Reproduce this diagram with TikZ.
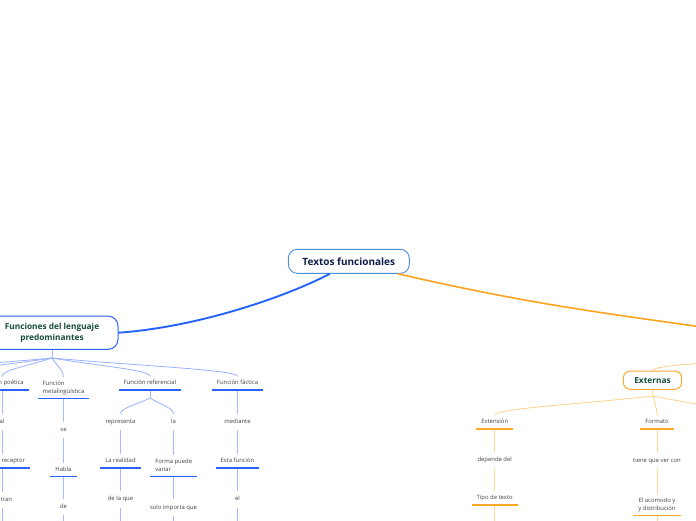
\documentclass[tikz,border=0pt]{standalone}
\usepackage{fontspec}
\setmainfont{Open Sans}
\usetikzlibrary{calc}
\definecolor{rootB}{HTML}{4A90D9}
\definecolor{navy}{HTML}{0F1E4A}
\definecolor{dgreen}{HTML}{144D3C}
\definecolor{blueT}{HTML}{2563FF}
\definecolor{blueF}{HTML}{98B1FF}
\definecolor{blueU}{HTML}{2962FF}
\definecolor{blueV}{HTML}{A6BAFF}
\definecolor{txt}{HTML}{444444}
\definecolor{orT}{HTML}{FFA21F}
\definecolor{orB}{HTML}{FFA930}
\definecolor{orF}{HTML}{FFD08A}
\definecolor{orU}{HTML}{FFA726}
\definecolor{orV}{HTML}{FFD79A}
\newcommand\ms{\rule[-1.4pt]{0pt}{5.8pt}}
\begin{document}
\begin{tikzpicture}[x=1pt,y=-1pt,
  small/.style={font=\fontsize{5.9}{8}\selectfont, text=txt},
  lab/.style={small, inner xsep=1pt, inner ysep=5.1pt, text height=4.4pt, text depth=1.4pt},
  tit/.style={small, inner xsep=4.8pt, inner ysep=3.7pt, text height=4.4pt, text depth=1.4pt, anchor=south},
  tittwo/.style={small, inner xsep=4.8pt, inner ysep=3.7pt, anchor=south},
  rootbox/.style={draw=rootB, line width=0.9pt, fill=white, rounded corners=9pt, minimum width=121pt, minimum height=24pt, font=\bfseries\fontsize{10}{12}\selectfont, text=navy},
  funbox/.style={draw=blueT, line width=1pt, fill=white, rounded corners=10pt, minimum width=132pt, minimum height=33.3pt, align=center, font=\bfseries\fontsize{8.3}{11}\selectfont, text=dgreen},
  extbox/.style={draw=orB, line width=1pt, fill=white, rounded corners=7pt, minimum width=58.4pt, minimum height=18.3pt, font=\bfseries\fontsize{8.3}{10}\selectfont, text=dgreen},
  fan/.style={to path={let \p1=(\tikztostart), \p2=(\tikztotarget) in .. controls ({\x1+0.5*(\x2-\x1)},{\y1+0.45*(\y2-\y1)}) and ({\x2},{\y1+0.65*(\y2-\y1)}) .. (\tikztotarget) \tikztonodes}},
  fanB/.style={draw=blueF, line width=0.8pt, fan},
  fanO/.style={draw=orF, line width=0.8pt, fan},
  vB/.style={draw=blueV, line width=0.9pt},
  vO/.style={draw=orV, line width=0.9pt},
  ulB/.style={draw=blueU, line width=1.5pt},
  ulO/.style={draw=orU, line width=1.5pt},
  thickB/.style={draw=blueT, line width=1.9pt},
  thickO/.style={draw=orT, line width=1.6pt}
]
\useasboundingbox (0,0) rectangle (696,520);
\fill[white] (0,0) rectangle (696,520);
\clip (0,0) rectangle (696,520);

% main nodes
\node[rootbox] (root) at (348.8,261.3) {Textos funcionales};
\node[funbox] (fun) at (52,332.7) {Funciones del lenguaje\\predominantes};
\node[extbox] (ext) at (652.5,380.2) {Externas};
\coordinate (carac) at (745,333);
\coordinate (cs) at (785,360);

% blue subtree
\coordinate (fs) at (52,358);
\coordinate (fo1) at (-60,377);
\coordinate (fo2) at (-130,377);
\node[tit] (fp) at (2,390) {Función poética};
\node[tittwo, align=left] (fm) at (63.5,398.7) {\ms Función\\\ms metalingüística};
\node[tit] (fr) at (150,390) {Función referencial};
\node[tit] (ff) at (237.5,390) {Función fáctica};

\node[lab] (p1) at (2,422) {al};
\node[tit, text width=46pt, align=right] (p2) at (2,468) {receptor};
\node[lab, text width=20pt, align=right] (p3) at (2,500) {tran};

\node[lab] (m1) at (63.5,430) {se};
\node[tit] (m2) at (63.5,476.3) {Habla};
\node[lab] (m3) at (63.5,507) {de};

\coordinate (rs) at (150,398);
\node[lab] (r1) at (120.5,422) {representa};
\node[lab] (r2) at (173.5,422) {la};
\node[tit] (r3) at (120.5,468) {La realidad};
\node[tittwo, align=left] (r4) at (173.7,476.5) {\ms Forma puede\\\ms variar};
\node[lab] (r5) at (120.5,499.3) {de la que};
\node[lab] (r6) at (173.5,507.5) {solo importa que};

\node[lab] (f1) at (237.5,422) {mediante};
\node[tit] (f2) at (237.5,468) {Esta función};
\node[lab] (f3) at (237.5,499.3) {el};

% orange subtree
\coordinate (es) at (653,396);
\coordinate (eo) at (740,416);
\node[tit] (e1) at (494.7,429) {Extensión};
\node[tit] (e2) at (657,429) {Formato};
\node[lab] (e3) at (494.7,460.3) {depende del};
\node[tit] (e4) at (494.7,505) {Tipo de texto};
\node[lab] (e5) at (657,461) {tiene que ver con};
\node[tittwo, align=center] (e6) at (657,515.7) {\ms El acomodo y\\\ms y distribución};

\coordinate (bot) at (0,545);

% thick connectors
\draw[thickB] ([xshift=-19pt]root.south) .. controls (290,295) and (200,327) .. (fun.east);
\draw[thickO] ([xshift=49pt]root.south) to[out=-13,in=172] (carac);

% blue fan
\draw[vB] (fun.south) -- (fs);
\foreach \t in {fo2,fo1,fp.north,fm.north,fr.north,ff.north}
  \draw[fanB] (fs) to (\t);
\draw[vB] (fr.south) -- (rs);
\draw[fanB] (rs) to (r1.north);
\draw[fanB] (rs) to (r2.north);

% blue verticals
\draw[vB] (fp.south) -- (fp.south |- p1.north);
\draw[vB] (p1.south) -- (p1.south |- p2.north);
\draw[vB] (p2.south) -- (p2.south |- p3.north);
\draw[vB] (p3.south) -- (p3.south |- bot);
\draw[vB] (fm.south) -- (fm.south |- m1.north);
\draw[vB] (m1.south) -- (m1.south |- m2.north);
\draw[vB] (m2.south) -- (m2.south |- m3.north);
\draw[vB] (m3.south) -- (m3.south |- bot);
\draw[vB] (r1.south) -- (r1.south |- r3.north);
\draw[vB] (r3.south) -- (r3.south |- r5.north);
\draw[vB] (r5.south) -- (r5.south |- bot);
\draw[vB] (r2.south) -- (r2.south |- r4.north);
\draw[vB] (r4.south) -- (r4.south |- r6.north);
\draw[vB] (r6.south) -- (r6.south |- bot);
\draw[vB] (ff.south) -- (ff.south |- f1.north);
\draw[vB] (f1.south) -- (f1.south |- f2.north);
\draw[vB] (f2.south) -- (f2.south |- f3.north);
\draw[vB] (f3.south) -- (f3.south |- bot);

% blue underlines
\foreach \n in {fp,fm,fr,ff,p2,m2,r3,r4,f2}
  \draw[ulB] (\n.south west) -- (\n.south east);

% orange fan
\draw[orF, line width=0.8pt] (cs) .. controls (712,361.6) and (652.5,365.5) .. (ext.north);
\draw[vO] (ext.south) -- (es);
\foreach \t in {eo,e1.north,e2.north}
  \draw[fanO] (es) to (\t);

% orange verticals
\draw[vO] (e1.south) -- (e1.south |- e3.north);
\draw[vO] (e3.south) -- (e3.south |- e4.north);
\draw[vO] (e4.south) -- (e4.south |- bot);
\draw[vO] (e2.south) -- (e2.south |- e5.north);
\draw[vO] (e5.south) -- (e5.south |- e6.north);
\draw[vO] (e6.south) -- (e6.south |- bot);

% orange underlines
\foreach \n in {e1,e2,e4,e6}
  \draw[ulO] (\n.south west) -- (\n.south east);
\end{tikzpicture}
\end{document}
